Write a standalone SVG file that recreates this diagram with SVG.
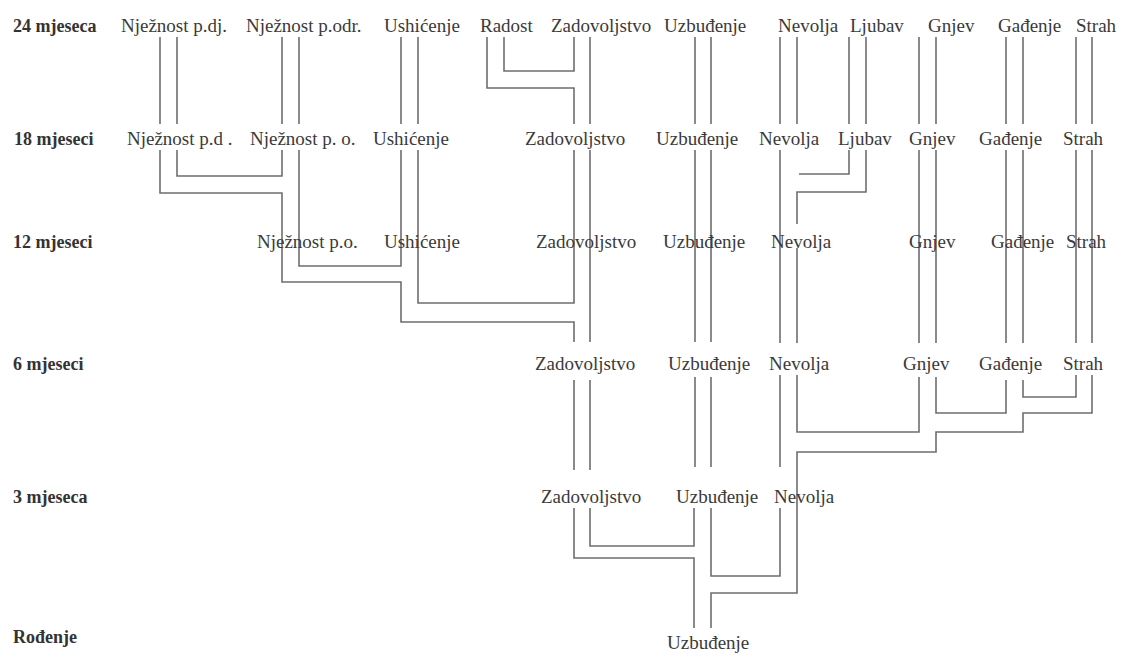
<svg xmlns="http://www.w3.org/2000/svg" width="1121" height="654" viewBox="0 0 1121 654">
<style>
.bg{fill:#ffffff}
.lbl{font-family:"Liberation Serif","Times New Roman",serif;font-size:18px;font-weight:bold;fill:#333}
.n{font-family:"Liberation Serif","Times New Roman",serif;font-size:19px;fill:#3a3a3a}
.c path{fill:none;stroke:#6e6e6e;stroke-width:1.6}
</style>
<rect class="bg" x="0" y="0" width="1121" height="654"/>
<g id="connectors" class="c">
<path d="M160,37V124M177,37V124M282,37V124M299,37V124M401,37V124M418,37V124"/>
<path d="M504,37V71H574V37"/>
<path d="M487,37V88H574V124"/>
<path d="M590,37V124M695,37V124M711,37V124M780,37V124M797,37V124M849,37V124M866,37V124M919,37V124M936,37V124M1006,37V124M1023,37V124M1076,37V124M1092,37V124"/>
<path d="M177,150V176H282V150"/>
<path d="M160,150V193H282V282H401V322H574V342"/>
<path d="M299,150V266H401V150"/>
<path d="M418,150V303H574V150"/>
<path d="M590,150V342M695,150V342M711,150V342M780,150V343"/>
<path d="M849,150V174H799"/>
<path d="M866,150V192H797V224M797,248V343"/>
<path d="M919,150V343M936,150V343M1006,150V343M1023,150V343M1076,150V343M1092,150V343"/>
<path d="M574,380V470M590,380V470M695,377V467M711,377V467M780,375V467"/>
<path d="M797,375V432H919V377"/>
<path d="M936,377V413H1006V380"/>
<path d="M1023,380V397H1076V375"/>
<path d="M1092,375V413H1023V432H936V452H797V593H711V628"/>
<path d="M590,508V546H694V508"/>
<path d="M574,508V558H694V628"/>
<path d="M711,508V576H780V508"/>
</g>
<g id="label-24"><text class="lbl" x="13" y="32">24 mjeseca</text></g>
<g id="label-18"><text class="lbl" x="14" y="145">18 mjeseci</text></g>
<g id="label-12"><text class="lbl" x="13" y="248">12 mjeseci</text></g>
<g id="label-6"><text class="lbl" x="13" y="370">6 mjeseci</text></g>
<g id="label-3"><text class="lbl" x="13" y="503">3 mjeseca</text></g>
<g id="label-0"><text class="lbl" x="13" y="643">Rođenje</text></g>

<g id="n24-njeznost-pdj"><text class="n" x="121" y="32">Nježnost p.dj.</text></g>
<g id="n24-njeznost-podr"><text class="n" x="246" y="32">Nježnost p.odr.</text></g>
<g id="n24-ushicenje"><text class="n" x="384" y="32">Ushićenje</text></g>
<g id="n24-radost"><text class="n" x="480" y="32">Radost</text></g>
<g id="n24-zadovoljstvo"><text class="n" x="551" y="32">Zadovoljstvo</text></g>
<g id="n24-uzbudjenje"><text class="n" x="664" y="32">Uzbuđenje</text></g>
<g id="n24-nevolja"><text class="n" x="778" y="32">Nevolja</text></g>
<g id="n24-ljubav"><text class="n" x="850" y="32">Ljubav</text></g>
<g id="n24-gnjev"><text class="n" x="928" y="32">Gnjev</text></g>
<g id="n24-gadjenje"><text class="n" x="998" y="32">Gađenje</text></g>
<g id="n24-strah"><text class="n" x="1076" y="32">Strah</text></g>

<g id="n18-njeznost-pd"><text class="n" x="127" y="145">Nježnost p.d .</text></g>
<g id="n18-njeznost-po"><text class="n" x="250" y="145">Nježnost p. o.</text></g>
<g id="n18-ushicenje"><text class="n" x="373" y="145">Ushićenje</text></g>
<g id="n18-zadovoljstvo"><text class="n" x="525" y="145">Zadovoljstvo</text></g>
<g id="n18-uzbudjenje"><text class="n" x="656" y="145">Uzbuđenje</text></g>
<g id="n18-nevolja"><text class="n" x="759" y="145">Nevolja</text></g>
<g id="n18-ljubav"><text class="n" x="838" y="145">Ljubav</text></g>
<g id="n18-gnjev"><text class="n" x="909" y="145">Gnjev</text></g>
<g id="n18-gadjenje"><text class="n" x="979" y="145">Gađenje</text></g>
<g id="n18-strah"><text class="n" x="1063" y="145">Strah</text></g>

<g id="n12-njeznost-po"><text class="n" x="257" y="248">Nježnost p.o.</text></g>
<g id="n12-ushicenje"><text class="n" x="384" y="248">Ushićenje</text></g>
<g id="n12-zadovoljstvo"><text class="n" x="536" y="248">Zadovoljstvo</text></g>
<g id="n12-uzbudjenje"><text class="n" x="663" y="248">Uzbuđenje</text></g>
<g id="n12-nevolja"><text class="n" x="771" y="248">Nevolja</text></g>
<g id="n12-gnjev"><text class="n" x="909" y="248">Gnjev</text></g>
<g id="n12-gadjenje"><text class="n" x="991" y="248">Gađenje</text></g>
<g id="n12-strah"><text class="n" x="1066" y="248">Strah</text></g>

<g id="n6-zadovoljstvo"><text class="n" x="535" y="370">Zadovoljstvo</text></g>
<g id="n6-uzbudjenje"><text class="n" x="668" y="370">Uzbuđenje</text></g>
<g id="n6-nevolja"><text class="n" x="769" y="370">Nevolja</text></g>
<g id="n6-gnjev"><text class="n" x="903" y="370">Gnjev</text></g>
<g id="n6-gadjenje"><text class="n" x="979" y="370">Gađenje</text></g>
<g id="n6-strah"><text class="n" x="1063" y="370">Strah</text></g>

<g id="n3-zadovoljstvo"><text class="n" x="541" y="503">Zadovoljstvo</text></g>
<g id="n3-uzbudjenje"><text class="n" x="676" y="503">Uzbuđenje</text></g>
<g id="n3-nevolja"><text class="n" x="774" y="503">Nevolja</text></g>

<g id="n0-uzbudjenje"><text class="n" x="667" y="649">Uzbuđenje</text></g>
</svg>
